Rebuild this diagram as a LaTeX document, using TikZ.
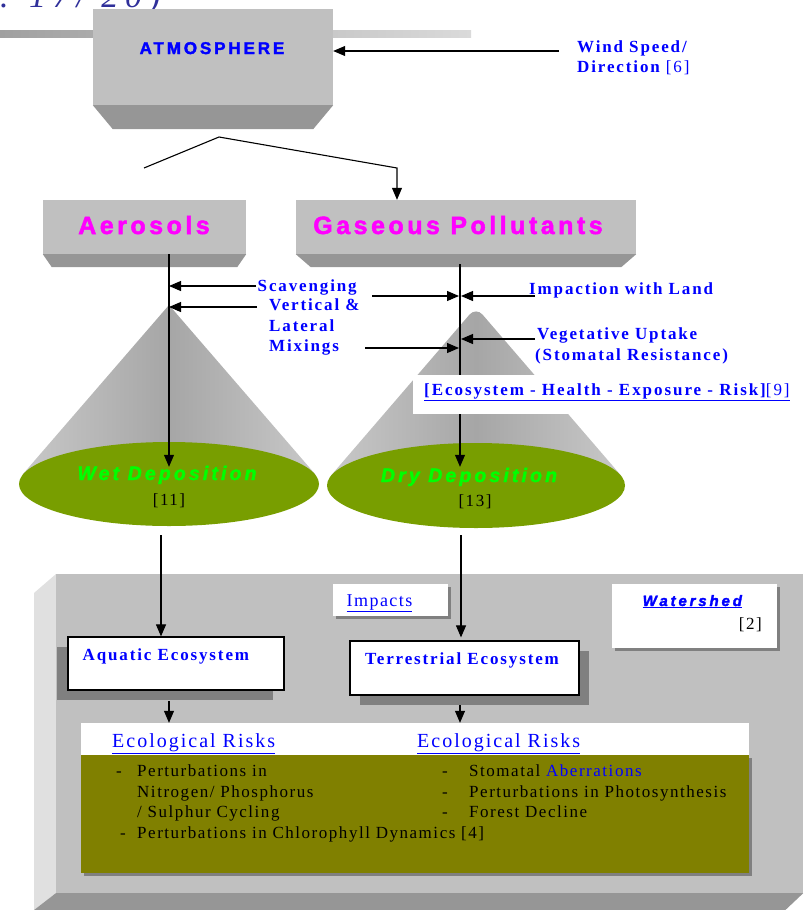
\documentclass[tikz,border=0pt]{standalone}
\usepackage{fontspec}
\setmainfont{Liberation Serif}
\newfontfamily\seriftext{Liberation Serif}
\newfontfamily\heavysans{Liberation Sans}[FakeBold=2]
\usetikzlibrary{arrows.meta,calc,shapes.geometric,shadows}

\definecolor{faceGray}{HTML}{C0C0C0}
\definecolor{bevelGray}{HTML}{969696}
\definecolor{shadowGray}{HTML}{808080}
\definecolor{panelSide}{HTML}{E0E0E0}
\definecolor{coneMid}{HTML}{A6A6A6}
\definecolor{coneEdge}{HTML}{C8C8C8}
\definecolor{depoGreen}{HTML}{789E00}
\definecolor{riskOlive}{HTML}{808000}
\definecolor{linkBlue}{HTML}{0000FF}
\definecolor{pollMagenta}{HTML}{FF00FF}
\definecolor{depoText}{HTML}{00FF00}
\definecolor{titleBlue}{HTML}{30309A}
\definecolor{barDark}{HTML}{A0A0A0}
\definecolor{barLight}{HTML}{DADADA}

\tikzset{
  arr/.style={-{Triangle[length=12pt,width=10pt]}, line width=1.1pt},
  greyface/.style={fill=faceGray, inner sep=0pt},
  wbox/.style={fill=white, inner sep=0pt},
  ecobox/.style={fill=white, draw=black, line width=1.2pt, inner sep=0pt},
  shadowbox/.style={drop shadow={shadow xshift=3pt, shadow yshift=-3pt, opacity=1, fill=shadowGray}},
  cone/.style={left color=coneEdge, right color=coneEdge, middle color=coneMid},
  depo/.style={ellipse, fill=depoGreen, inner sep=0pt},
  blabel/.style={anchor=base west, inner sep=0pt, text=linkBlue,
    font={\seriftext\bfseries\fontsize{17}{20}\selectfont\addfontfeature{LetterSpace=11}}},
  plain/.style={anchor=base west, inner sep=0pt,
    font={\seriftext\fontsize{17}{20}\selectfont\addfontfeature{LetterSpace=9}}},
  bigsans/.style={anchor=base, inner sep=0pt, text=pollMagenta,
    font={\heavysans\bfseries\fontsize{25}{28}\selectfont\addfontfeature{LetterSpace=14}}},
  deposans/.style={anchor=base, inner sep=0pt, text=depoText,
    font={\heavysans\bfseries\itshape\fontsize{19.5}{22}\selectfont\addfontfeature{LetterSpace=16}}}
}

\begin{document}
\begin{tikzpicture}[x=1pt,y=-1pt]
  \useasboundingbox (0,0) rectangle (803,910);

  % cut-off page number and rule
  \node[anchor=base west, inner sep=0pt, text=titleBlue,
    font={\itshape\fontsize{34}{34}\selectfont\addfontfeature{LetterSpace=20}}] (pagenum) at (0,8) {. 17/ 20)};
  \shade[left color=barDark, right color=barLight] (0,30) rectangle (471,37);

  % atmosphere
  \node[greyface, minimum width=240pt, minimum height=96pt] (atmo) at (213,57) {};
  \fill[bevelGray] (atmo.south west) -- (atmo.south east) -- ++(-20,24) -- ($(atmo.south west)+(20,24)$) -- cycle;
  \node[anchor=base, inner sep=0pt, text=linkBlue,
    font={\heavysans\bfseries\fontsize{17}{20}\selectfont\addfontfeature{LetterSpace=17}}] (atmoTxt) at (212,54) {ATMOSPHERE};

  \node[blabel] (wind) at (577,52) {Wind Speed/};
  \node[blabel] (direction) at (577,72) {Direction {\mdseries[6]}};
  \coordinate (windFrom) at (559,51);
  \draw[arr] (windFrom) -- (windFrom -| atmo.east);

  % pollutant boxes
  \node[greyface, minimum width=203pt, minimum height=54pt] (aer) at (144.5,227) {};
  \fill[bevelGray] (aer.south west) -- (aer.south east) -- ++(-9,13) -- ($(aer.south west)+(9,13)$) -- cycle;
  \node[greyface, minimum width=340pt, minimum height=54pt] (gas) at (466,227) {};
  \fill[bevelGray] (gas.south west) -- (gas.south east) -- ++(-15,13) -- ($(gas.south west)+(15,13)$) -- cycle;
  \node[bigsans] (aerTxt) at (144,234) {Aerosols};
  \node[bigsans] (gasTxt) at (458,234) {Gaseous Pollutants};

  \coordinate (splitL) at (144,168);
  \coordinate (splitTop) at (219,137);
  \coordinate (splitR) at (397,168);
  \draw[arr] (splitL) -- (splitTop) -- (splitR) -- (splitR |- gas.north);

  % cones
  \coordinate (wetApex) at (169,305);
  \coordinate (wetC) at (169,484);
  \coordinate (dryApex) at (476,307);
  \coordinate (dryC) at (476,485.5);
  \shade[cone] (wetApex) -- ($(wetC)+(-146,-10)$) -- ($(wetC)+(146,-10)$) -- cycle;
  \shade[cone] ($(dryC)+(-145,-10)$) [rounded corners=10pt] -- (dryApex) [sharp corners] -- ($(dryC)+(145,-10)$) -- cycle;
  \node[depo, minimum width=300pt, minimum height=84pt] (wet) at (wetC) {};
  \node[depo, minimum width=298pt, minimum height=85pt] (dry) at (dryC) {};

  \coordinate (aerLine) at (169,254);
  \coordinate (gasLine) at (460,264);
  \draw[arr] (aerLine) -- ($(aerLine |- wet.north)+(0,25)$);
  \draw[arr] (gasLine) -- ($(gasLine |- dry.north)+(0,24)$);

  % process labels
  \node[blabel] (scav) at (257.5,291) {Scavenging};
  \node[blabel] (vert) at (269,310) {Vertical \&};
  \node[blabel] (lat) at (269,331) {Lateral};
  \node[blabel] (mix) at (269,351) {Mixings};
  \node[blabel] (impact) at (529,294) {Impaction with Land};
  \node[blabel] (veg) at (537,339) {Vegetative Uptake};
  \node[blabel] (stoma) at (535,360) {(Stomatal Resistance)};

  \coordinate (scavFrom) at (256,286);
  \coordinate (vertFrom) at (257,307);
  \coordinate (mixFrom) at (372,296);
  \coordinate (impFrom) at (535,296);
  \coordinate (vegFrom) at (535,339);
  \coordinate (mix2From) at (365,348);
  \draw[arr] (scavFrom) -- (scavFrom -| aerLine);
  \draw[arr] (vertFrom) -- (vertFrom -| aerLine);
  \draw[arr] (mixFrom) -- ($(mixFrom -| gasLine)+(-1,0)$);
  \draw[arr] (impFrom) -- ($(impFrom -| gasLine)+(1,0)$);
  \draw[arr] (vegFrom) -- ($(vegFrom -| gasLine)+(1,0)$);
  \draw[arr] (mix2From) -- ($(mix2From -| gasLine)+(-1,0)$);

  \node[wbox, minimum width=384pt, minimum height=39pt] (ehr) at (605,394.5) {};
  \node[blabel, font={\seriftext\bfseries\fontsize{17}{20}\selectfont\addfontfeature{LetterSpace=11.5}}] (ehrTxt) at (424,395) {\underline{[Ecosystem - Health - Exposure - Risk]{\mdseries[9]}}};

  \node[deposans] (wetTxt) at (167,480) {Wet Deposition};
  \node[plain, anchor=base] (wetCite) at (169,505) {[11]};
  \node[deposans] (dryTxt) at (469,482) {Dry Deposition};
  \node[plain, anchor=base] (dryCite) at (475,506) {[13]};

  % watershed panel
  \fill[panelSide] (34,593) -- (56,574) -- (56,893) -- (34,910) -- cycle;
  \node[greyface, minimum width=747pt, minimum height=319pt] (shed) at (429.5,733.5) {};
  \fill[bevelGray] (shed.south west) -- (shed.south east) -- ++(-18,17) -- ($(shed.south west)+(-22,17)$) -- cycle;

  \node[wbox, shadowbox, minimum width=115pt, minimum height=32pt] (impacts) at (390.5,600) {};
  \node[plain, text=linkBlue, font={\seriftext\fontsize{18}{20}\selectfont\addfontfeature{LetterSpace=8}}] (impactsTxt) at (346.5,606) {\underline{Impacts}};
  \node[wbox, shadowbox, minimum width=165pt, minimum height=64pt] (shedBox) at (694.5,616) {};
  \node[anchor=base west, inner sep=0pt, text=linkBlue,
    font={\heavysans\bfseries\itshape\fontsize{15}{18}\selectfont\addfontfeature{LetterSpace=19}}] (shedTxt) at (642.5,606) {\underline{Watershed}};
  \node[plain, anchor=base east] (shedCite) at (762,629) {[2]};

  \node[ecobox, minimum width=216pt, minimum height=53pt,
    drop shadow={shadow xshift=-11pt, shadow yshift=-10pt, opacity=1, fill=shadowGray}] (aquatic) at (176,663.5) {};
  \node[blabel] (aquaticTxt) at (82.5,660) {Aquatic Ecosystem};
  \node[ecobox, minimum width=229pt, minimum height=54pt,
    drop shadow={shadow xshift=10pt, shadow yshift=-10pt, opacity=1, fill=shadowGray}] (terr) at (464.5,668) {};
  \node[blabel] (terrTxt) at (365,664) {Terrestrial Ecosystem};

  \coordinate (wetOut) at (161,535);
  \coordinate (dryOut) at (461,535);
  \draw[arr] (wetOut) -- (wetOut |- aquatic.north);
  \draw[arr] (dryOut) -- ($(dryOut |- terr.north)+(0,-3)$);

  % ecological risks
  \node[wbox, minimum width=668pt, minimum height=32pt] (riskHead) at (415,739) {};
  \node[fill=riskOlive, inner sep=0pt, shadowbox, minimum width=668pt, minimum height=118pt] (riskBody) at (415,814) {};
  \coordinate (aqOut) at (169,701);
  \coordinate (terrOut) at (460,705);
  \draw[arr] (aqOut) -- (aqOut |- riskHead.north);
  \draw[arr] (terrOut) -- (terrOut |- riskHead.north);

  \node[anchor=base west, inner sep=0pt, text=linkBlue,
    font={\seriftext\fontsize{20}{22}\selectfont\addfontfeature{LetterSpace=10}}] (riskL) at (112,747) {\underline{Ecological Risks}};
  \node[anchor=base west, inner sep=0pt, text=linkBlue,
    font={\seriftext\fontsize{20}{22}\selectfont\addfontfeature{LetterSpace=10}}] (riskR) at (417,747) {\underline{Ecological Risks}};

  \node[plain] (dashA) at (116,776) {-};
  \node[plain] (itemA) at (137,776) {Perturbations in};
  \node[plain] (itemA2) at (137,797) {Nitrogen/ Phosphorus};
  \node[plain] (itemA3) at (137,817) {/ Sulphur Cycling};
  \node[plain] (dashB) at (120,838) {-};
  \node[plain] (itemB) at (137,838) {Perturbations in Chlorophyll Dynamics [4]};

  \node[plain] (dashC) at (442,776) {-};
  \node[plain] (itemC) at (469,776) {Stomatal \textcolor{linkBlue}{Aberrations}};
  \node[plain] (dashD) at (442,797) {-};
  \node[plain] (itemD) at (469,797) {Perturbations in Photosynthesis};
  \node[plain] (dashE) at (442,817) {-};
  \node[plain] (itemE) at (469,817) {Forest Decline};
\end{tikzpicture}
\end{document}
